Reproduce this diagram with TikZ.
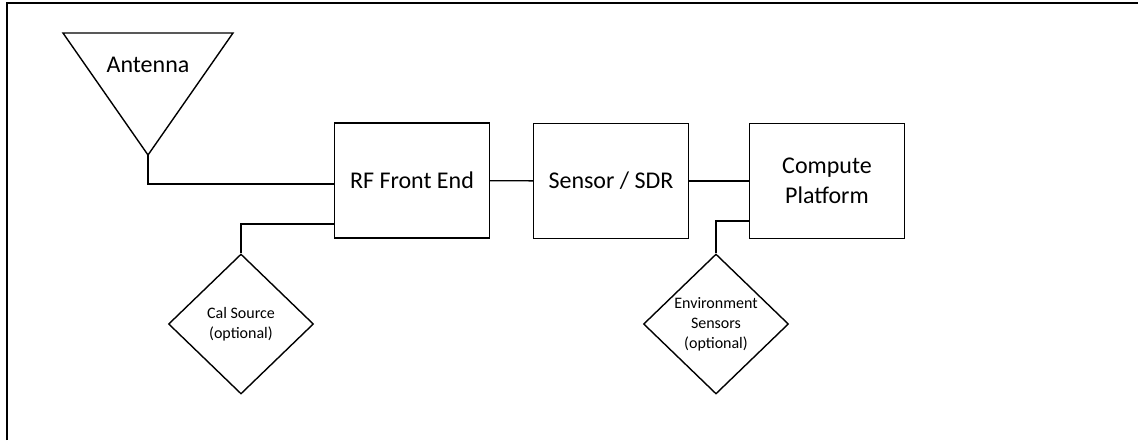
\documentclass[tikz,border=0pt]{standalone}
\usepackage{fontspec}
\setmainfont{Carlito}
\usetikzlibrary{shapes.geometric}

\begin{document}
\begin{tikzpicture}[x=1pt,y=-1pt,line width=1.4pt,
  block/.style={shape=rectangle,draw=black,minimum width=155pt,minimum height=115pt,align=center,font=\fontsize{24}{30}\selectfont},
  option/.style={shape=diamond,draw=black,inner sep=0pt,minimum width=145pt,minimum height=140pt,align=center,font=\fontsize{16}{20}\selectfont}]
  \useasboundingbox (0,0) rectangle (1138,440);
  \draw[line width=2pt] (7,440) -- (7,3) -- (1138,3);
  % antenna
  \draw[line join=miter] (63,33) -- (233,33) -- (148,155) -- cycle;
  \coordinate (tip) at (148,155);
  \node[font=\fontsize{24}{30}\selectfont] (antenna) at (148,65) {Antenna};
  % chain
  \node[block] (rf) at (412,180.5) {RF Front End};
  \node[block] (sdr) at (611,181) {Sensor / SDR};
  \node[block] (compute) at (827,181) {Compute\\Platform};
  \node[option] (cal) at (241,324) {Cal Source\\(optional)};
  \node[option] (env) at (716,324) {Environment\\Sensors\\(optional)};
  \draw (tip) |- ([yshift=-3.5pt]rf.west);
  \draw (cal.north) |- ([yshift=-43.5pt]rf.west);
  \path [-](rf) edge node[left] {} (sdr);
  \path [-](sdr) edge node[left] {} (compute);
  \draw (env.north) |- ([yshift=-40pt]compute.west);
\end{tikzpicture}
\end{document}
